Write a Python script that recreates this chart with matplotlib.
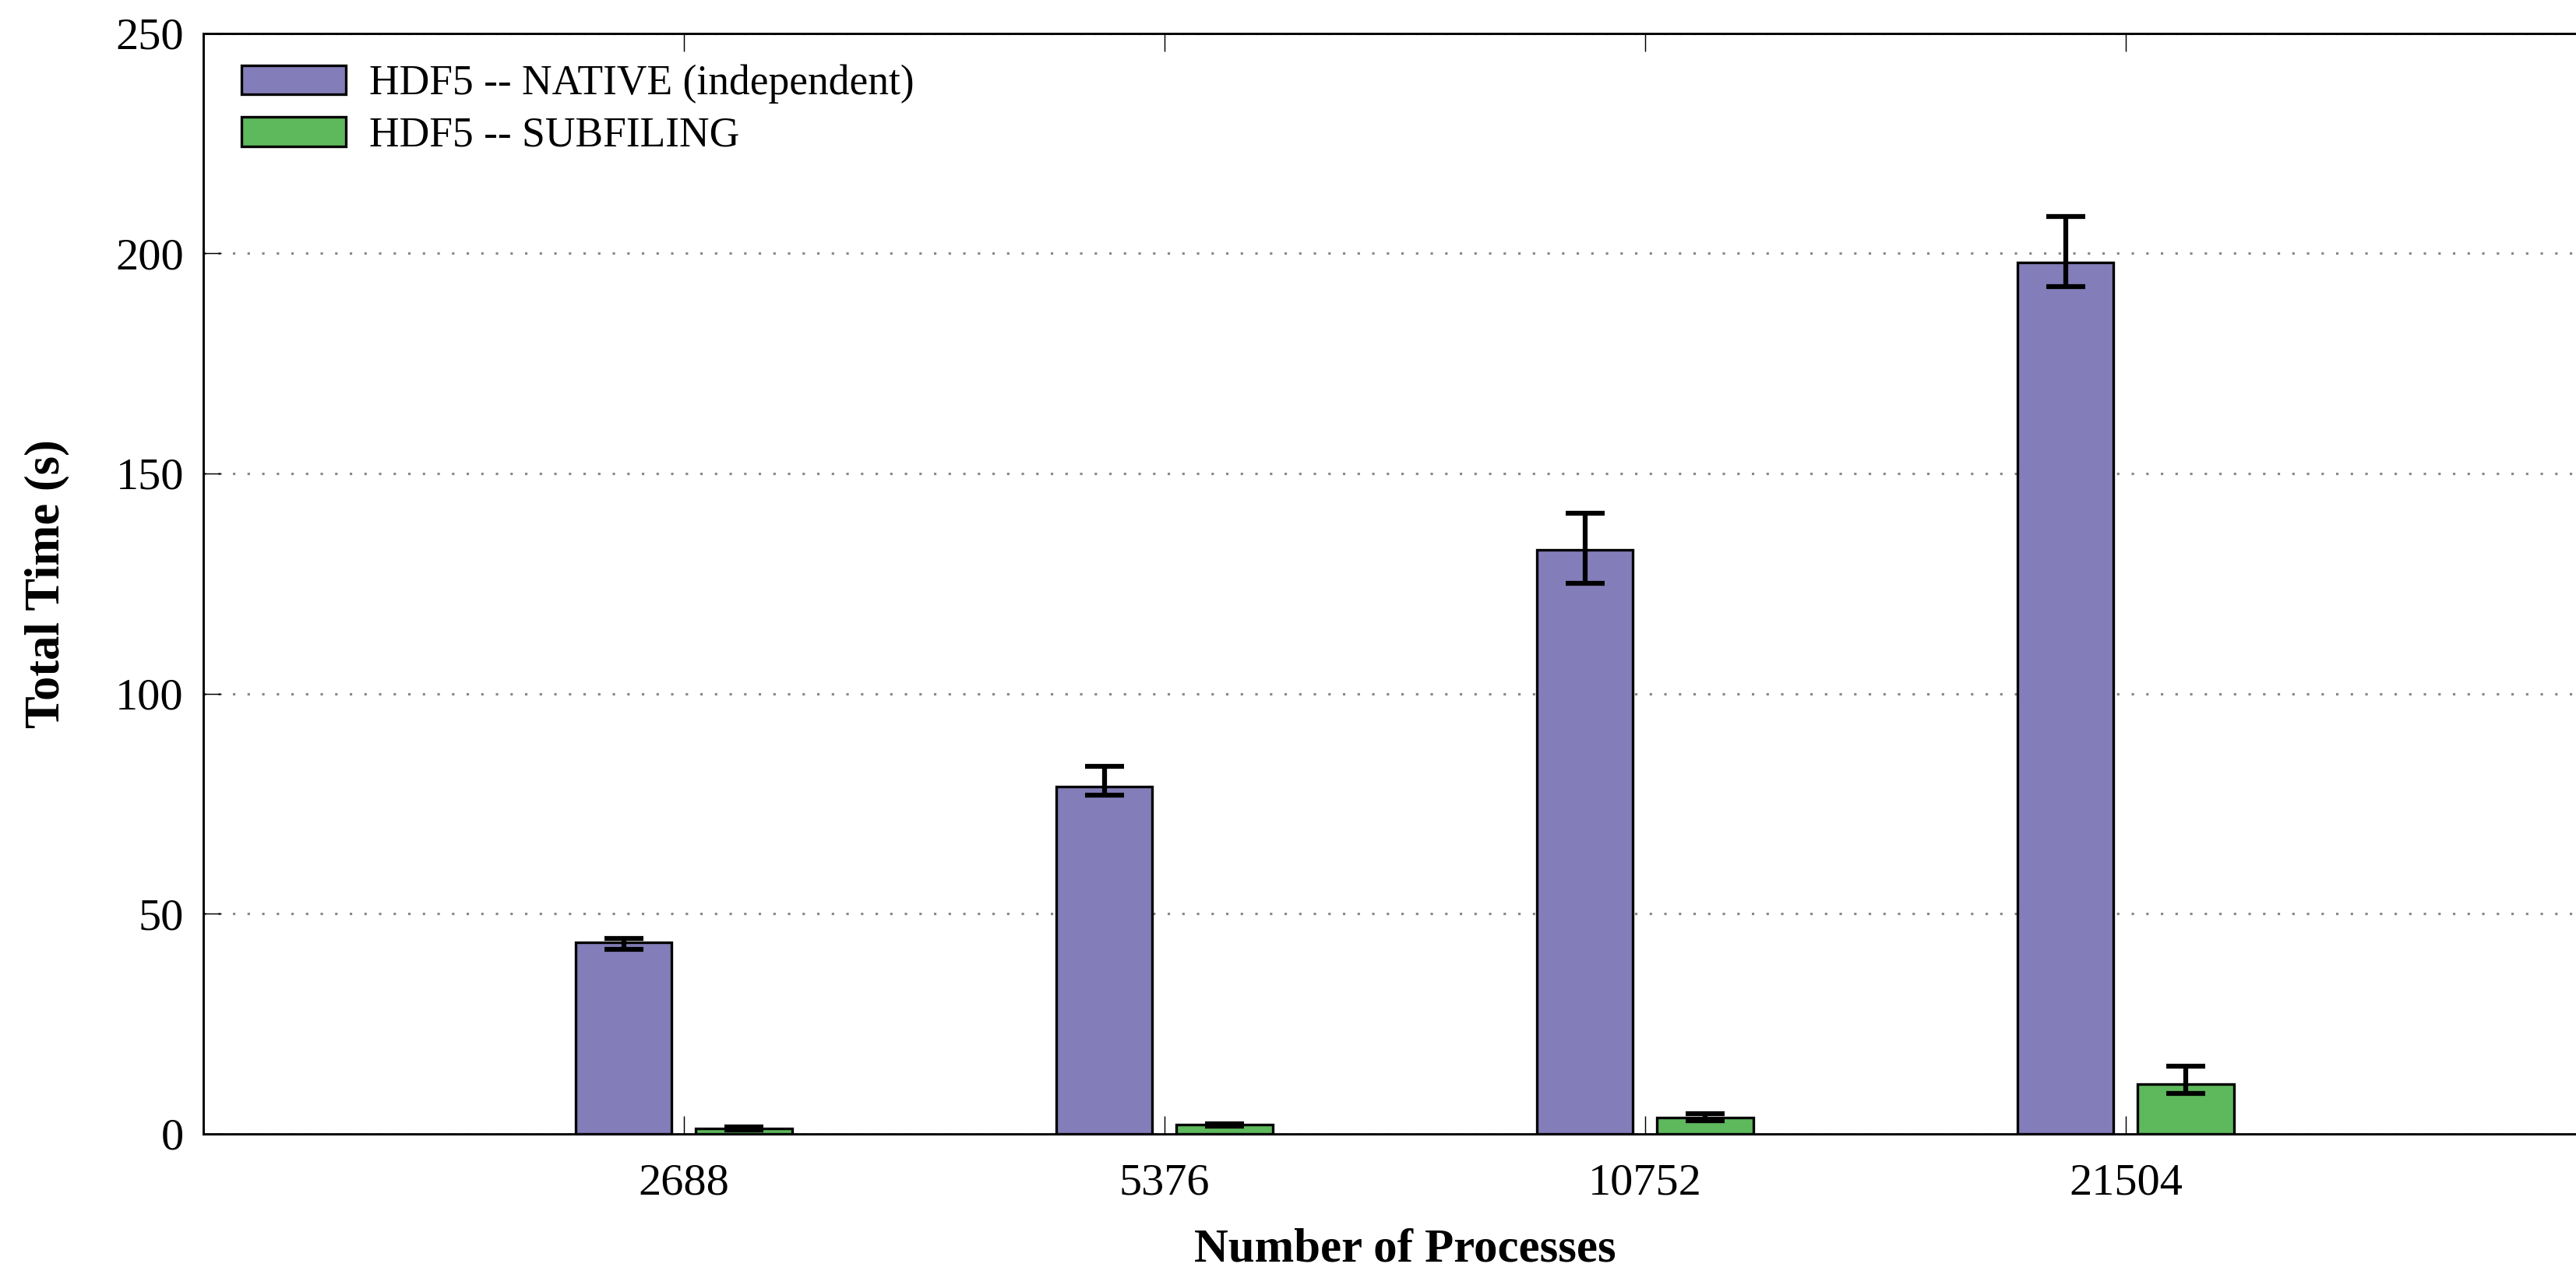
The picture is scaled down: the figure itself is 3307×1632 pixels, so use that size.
import numpy as np
import matplotlib
matplotlib.use("Agg")
import matplotlib.pyplot as plt

plt.rcParams["font.family"] = ["Liberation Serif", "DejaVu Serif"]

procs = ["2688", "5376", "10752", "21504"]

native = [43.4, 78.8, 132.6, 198.0]
native_min = [41.9, 77.0, 125.0, 192.5]
native_max = [44.4, 83.5, 140.9, 208.4]

subfiling = [1.2, 2.0, 3.6, 11.3]
subfiling_min = [0.9, 1.7, 3.0, 9.2]
subfiling_max = [1.5, 2.3, 4.5, 15.3]

c_native = "#837eb9"
c_sub = "#5eb85c"

fig = plt.figure(figsize=(3307 / 300, 1632 / 300), dpi=300)
ax = fig.add_axes([0.0789, 0.108, 0.9211, 0.8658])

x = np.arange(1, len(procs) + 1)
w = 0.2
off = 0.125

err_native = [np.array(native) - np.array(native_min), np.array(native_max) - np.array(native)]
err_sub = [np.array(subfiling) - np.array(subfiling_min), np.array(subfiling_max) - np.array(subfiling)]
ekw = dict(elinewidth=1.5, capthick=1.5, ecolor="black")

ax.bar(x - off, native, w, color=c_native, edgecolor="black", linewidth=0.8,
       yerr=err_native, capsize=6, error_kw=ekw, label="HDF5 -- NATIVE (independent)", zorder=3)
ax.bar(x + off, subfiling, w, color=c_sub, edgecolor="black", linewidth=0.8,
       yerr=err_sub, capsize=6, error_kw=ekw, label="HDF5 -- SUBFILING", zorder=3)

ax.set_xlim(0, 4.937)
ax.set_ylim(0, 250)
ax.set_yticks(np.arange(0, 251, 50))
ax.set_xticks(x)
ax.set_xticklabels(procs)

ax.yaxis.grid(True, color="#888888", linestyle=(0, (1, 5)), linewidth=0.75, zorder=0)
ax.set_axisbelow(True)

ax.spines["right"].set_visible(False)
for s in ["left", "top", "bottom"]:
    ax.spines[s].set_linewidth(0.7)

ax.tick_params(axis="x", direction="in", length=5.5, width=0.35, top=True,
               labelsize=14, pad=9)
ax.tick_params(axis="y", direction="in", length=5.5, width=0.35, right=False,
               labelsize=14, pad=6)

# x label centred on the full 0..5 range
ax.set_xlabel("Number of Processes", fontsize=14.6, fontweight="bold", labelpad=7.5)
ax.xaxis.label.set_x(5 / 2 / 4.937)
ax.set_ylabel("Total Time (s)", fontsize=15, fontweight="bold", labelpad=14)

ax.legend(loc="upper left", frameon=False, fontsize=12.85, handlelength=2.5,
          handleheight=0.7, handletextpad=0.55, labelspacing=0.3,
          borderaxespad=0.35, bbox_to_anchor=(0.003, 1.0))

fig.savefig("out.png", dpi=300)
